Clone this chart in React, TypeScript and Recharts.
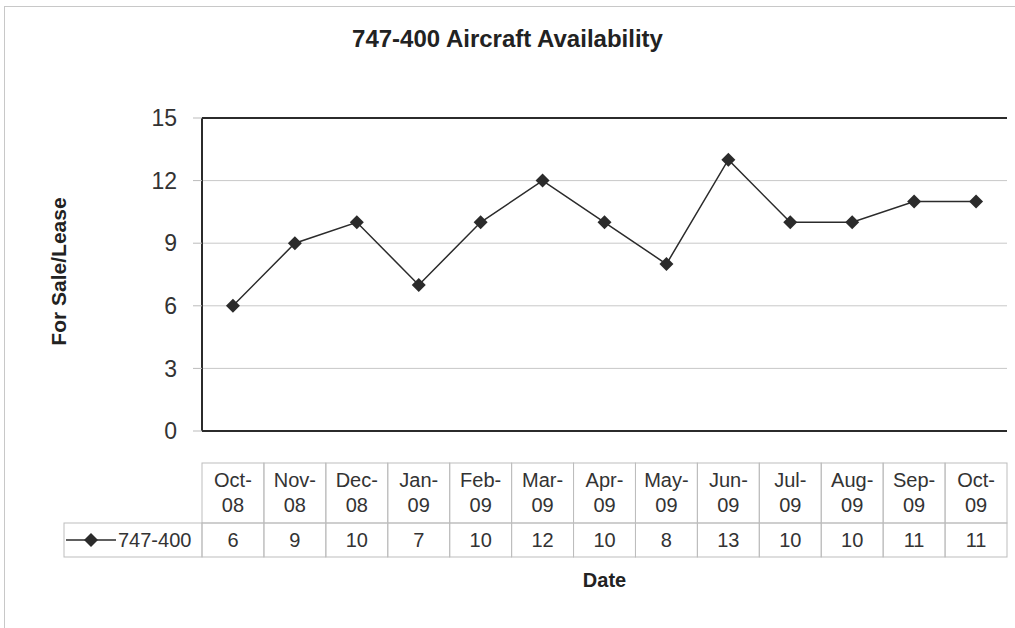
import {
  CartesianGrid,
  Line,
  LineChart,
  ReferenceLine,
  XAxis,
  YAxis,
} from "recharts";

const months = [
  "Oct-08", "Nov-08", "Dec-08", "Jan-09", "Feb-09", "Mar-09", "Apr-09",
  "May-09", "Jun-09", "Jul-09", "Aug-09", "Sep-09", "Oct-09",
];
const available = [6, 9, 10, 7, 10, 12, 10, 8, 13, 10, 10, 11, 11];
const yTicks = [0, 3, 6, 9, 12, 15];
const seriesName = "747-400";

const W = 1015;
const H = 628;
const LEFT = 202;
const RIGHT = 8;
const TOP = 118;
const BOTTOM_AXIS = 197;
const COL_W = (W - LEFT - RIGHT) / months.length;
const FONT = "'Liberation Sans', Arial, Helvetica, sans-serif";
const INK = "#2b2b2b";
const CELL = "#bdbdbd";

const data = months.map((m, i) => ({ month: m, value: available[i] }));

function Diamond({ cx, cy }: { cx?: number; cy?: number }) {
  if (cx == null || cy == null) return null;
  const r = 7;
  return (
    <polygon
      points={`${cx},${cy - r} ${cx + r},${cy} ${cx},${cy + r} ${cx - r},${cy}`}
      fill={INK}
    />
  );
}

// the data table under the plot, one column per category tick
function TableTick(props: any) {
  const { x, y, payload, index } = props;
  const [mon, yr] = String(payload.value).split("-");
  const top = y + 32;
  const headH = 60;
  const rowH = 34;
  const left = x - COL_W / 2;
  return (
    <g fontFamily={FONT} fill="#333">
      <rect x={left} y={top} width={COL_W} height={headH} fill="none" stroke={CELL} />
      <rect x={left} y={top + headH} width={COL_W} height={rowH} fill="none" stroke={CELL} />
      <text x={x} y={top + 24} textAnchor="middle" fontSize={20}>{mon}-</text>
      <text x={x} y={top + 49} textAnchor="middle" fontSize={20}>{yr}</text>
      <text x={x} y={top + headH + 24} textAnchor="middle" fontSize={20}>
        {available[index]}
      </text>
      {index === 0 && (
        <g>
          <rect x={64} y={top + headH} width={left - 64} height={rowH} fill="none" stroke={CELL} />
          <line x1={66} x2={116} y1={top + headH + 17} y2={top + headH + 17} stroke={INK} strokeWidth={1.5} />
          <Diamond cx={91} cy={top + headH + 17} />
          <text x={118} y={top + headH + 24} fontSize={20}>{seriesName}</text>
        </g>
      )}
    </g>
  );
}

function YLabel(props: any) {
  const vb = props.viewBox || {};
  const x = (vb.x ?? 0) + 58;
  const y = (vb.y ?? 0) + (vb.height ?? 0) / 2 - 3;
  return (
    <text
      x={x}
      y={y}
      transform={`rotate(-90, ${x}, ${y})`}
      textAnchor="middle"
      dominantBaseline="central"
      fontFamily={FONT}
      fontWeight="bold"
      fontSize={21}
      fill="#222"
    >
      For Sale/Lease
    </text>
  );
}

function XLabel(props: any) {
  const vb = props.viewBox || {};
  return (
    <text
      x={(vb.x ?? 0) + (vb.width ?? 0) / 2}
      y={(vb.y ?? 0) + 156}
      textAnchor="middle"
      fontFamily={FONT}
      fontWeight="bold"
      fontSize={20}
      fill="#222"
    >
      Date
    </text>
  );
}

export default function App() {
  return (
    <div
      style={{
        position: "absolute",
        left: 0,
        top: 0,
        width: W,
        height: H,
        background: "#fff",
        overflow: "hidden",
      }}
    >
      <div
        style={{
          position: "absolute",
          left: 4,
          top: 6,
          width: W,
          height: H,
          border: "1px solid #c8c8c8",
        }}
      />
      <div
        style={{
          position: "absolute",
          left: 0,
          top: 25,
          width: W,
          textAlign: "center",
          fontFamily: FONT,
          fontWeight: "bold",
          fontSize: 24,
          color: "#222",
        }}
      >
        747-400 Aircraft Availability
      </div>
      <LineChart
        width={W}
        height={H}
        data={data}
        margin={{ top: TOP, right: RIGHT, bottom: 0, left: 0 }}
      >
        <CartesianGrid vertical={false} stroke="#c8c8c8" />
        <XAxis
          dataKey="month"
          interval={0}
          height={BOTTOM_AXIS}
          padding={{ left: COL_W / 2, right: COL_W / 2 }}
          tickLine={false}
          tickSize={0}
          tickMargin={0}
          axisLine={{ stroke: INK, strokeWidth: 2 }}
          tick={<TableTick />}
          label={<XLabel />}
        />
        <YAxis
          width={LEFT}
          domain={[0, 15]}
          ticks={yTicks}
          interval={0}
          tickSize={9}
          tickMargin={16}
          tickLine={{ stroke: "#bbb" }}
          axisLine={{ stroke: INK, strokeWidth: 2 }}
          tick={{ fontSize: 23, fill: "#333", fontFamily: FONT }}
          label={<YLabel />}
        />
        <YAxis
          yAxisId="r"
          orientation="right"
          width={0}
          tick={false}
          tickLine={false}
          axisLine={{ stroke: INK, strokeWidth: 2 }}
        />
        <ReferenceLine y={15} stroke={INK} strokeWidth={2} />
        <Line
          dataKey="value"
          stroke={INK}
          strokeWidth={1.5}
          dot={<Diamond />}
          activeDot={false}
          isAnimationActive={false}
        />
      </LineChart>
    </div>
  );
}
